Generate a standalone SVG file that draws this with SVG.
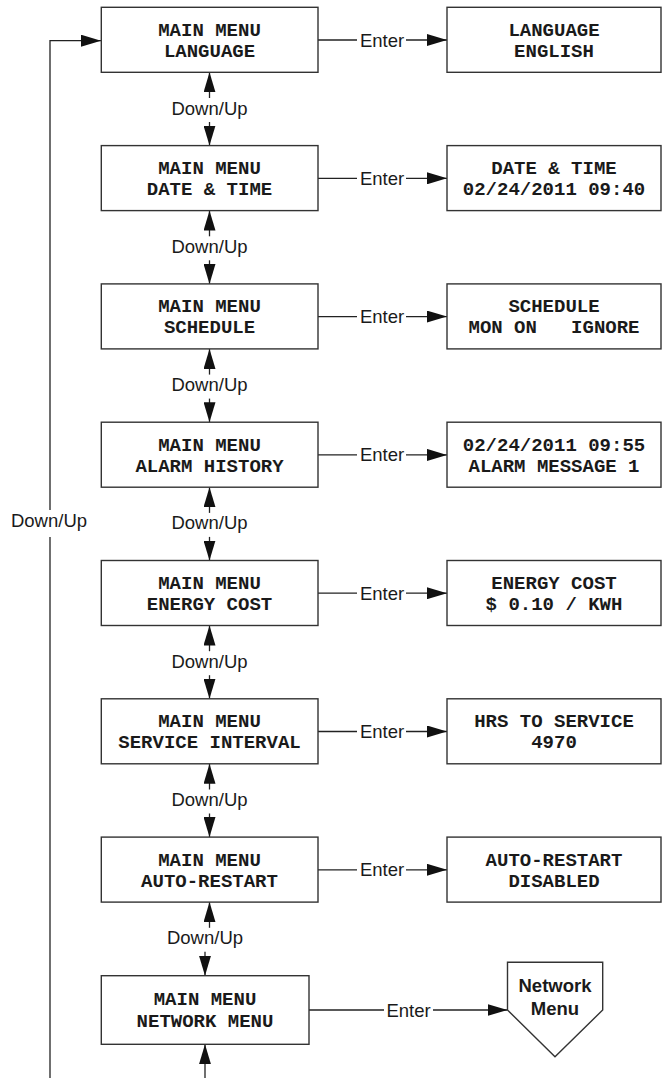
<svg xmlns="http://www.w3.org/2000/svg" width="662" height="1078" viewBox="0 0 662 1078">
<defs>
<marker id="ah" markerWidth="20" markerHeight="12" refX="20" refY="6" orient="auto" markerUnits="userSpaceOnUse">
<path d="M0,0 L20,6 L0,12 z" fill="#111"/>
</marker>
<style>
.box{fill:#fff;stroke:#333;stroke-width:1.4}
.mono{font-family:"Liberation Mono","Courier New",monospace;font-weight:bold;font-size:19px;fill:#1a1a1a;text-anchor:middle;white-space:pre}
.lbl{font-family:"Liberation Sans",Arial,sans-serif;font-size:18.5px;fill:#1a1a1a;text-anchor:middle}
.nm{font-family:"Liberation Sans",Arial,sans-serif;font-size:18.5px;font-weight:bold;fill:#1a1a1a;text-anchor:middle}
.ln{fill:none;stroke:#222;stroke-width:1.3}
.arr{fill:none;stroke:#222;stroke-width:1.3;marker-end:url(#ah)}
</style>
</defs>
<rect width="662" height="1078" fill="#fff"/>

<g id="connectors">
<!-- loop line -->
<path class="ln" d="M50,1078 L50,537"/>
<path class="arr" d="M50,510 L50,40.7 L101,40.7"/>
<text class="lbl" x="49" y="527">Down/Up</text>
<!-- Enter connectors -->
<g id="enter-connectors">
<path class="ln" d="M318,40 L357,40"/><path class="arr" d="M406,40 L447,40"/><text class="lbl" x="382" y="46.5">Enter</text>
<path class="ln" d="M318,178.3 L357,178.3"/><path class="arr" d="M406,178.3 L447,178.3"/><text class="lbl" x="382" y="184.8">Enter</text>
<path class="ln" d="M318,316.6 L357,316.6"/><path class="arr" d="M406,316.6 L447,316.6"/><text class="lbl" x="382" y="323.1">Enter</text>
<path class="ln" d="M318,454.9 L357,454.9"/><path class="arr" d="M406,454.9 L447,454.9"/><text class="lbl" x="382" y="461.4">Enter</text>
<path class="ln" d="M318,593.2 L357,593.2"/><path class="arr" d="M406,593.2 L447,593.2"/><text class="lbl" x="382" y="599.7">Enter</text>
<path class="ln" d="M318,731.5 L357,731.5"/><path class="arr" d="M406,731.5 L447,731.5"/><text class="lbl" x="382" y="738">Enter</text>
<path class="ln" d="M318,869.8 L357,869.8"/><path class="arr" d="M406,869.8 L447,869.8"/><text class="lbl" x="382" y="876.3">Enter</text>
<path class="ln" d="M309,1010 L384,1010"/><path class="arr" d="M433,1010 L507.5,1010"/><text class="lbl" x="408.5" y="1016.5">Enter</text>
</g>
<!-- Down/Up connectors -->
<g id="downup-connectors">
<path class="arr" d="M209.5,98 L209.5,72.3"/><path class="arr" d="M209.5,122 L209.5,145.6"/><text class="lbl" x="209.5" y="114.5">Down/Up</text>
<path class="arr" d="M209.5,236.3 L209.5,210.6"/><path class="arr" d="M209.5,260.3 L209.5,283.9"/><text class="lbl" x="209.5" y="252.8">Down/Up</text>
<path class="arr" d="M209.5,374.6 L209.5,348.9"/><path class="arr" d="M209.5,398.6 L209.5,422.2"/><text class="lbl" x="209.5" y="391.1">Down/Up</text>
<path class="arr" d="M209.5,512.9 L209.5,487.2"/><path class="arr" d="M209.5,536.9 L209.5,560.5"/><text class="lbl" x="209.5" y="529.4">Down/Up</text>
<path class="arr" d="M209.5,651.2 L209.5,625.5"/><path class="arr" d="M209.5,675.2 L209.5,698.8"/><text class="lbl" x="209.5" y="667.7">Down/Up</text>
<path class="arr" d="M209.5,789.5 L209.5,763.8"/><path class="arr" d="M209.5,813.5 L209.5,837.1"/><text class="lbl" x="209.5" y="806">Down/Up</text>
<path class="arr" d="M209.5,927.8 L209.5,902.1"/><path class="arr" d="M205,951.8 L205,975.7"/><text class="lbl" x="205" y="944.3">Down/Up</text>
<path class="arr" d="M205,1078 L205,1044.3"/>
</g>
</g>

<g id="main-language"><rect class="box" x="101.3" y="7.3" width="216.7" height="65"/><text class="mono" x="209.5" y="35.8">MAIN MENU</text><text class="mono" x="209.5" y="56.8">LANGUAGE</text></g>
<g id="sub-language"><rect class="box" x="447" y="7.3" width="214" height="65"/><text class="mono" x="554" y="35.8">LANGUAGE</text><text class="mono" x="554" y="56.8">ENGLISH</text></g>

<g id="main-datetime"><rect class="box" x="101.3" y="145.6" width="216.7" height="65"/><text class="mono" x="209.5" y="174.1">MAIN MENU</text><text class="mono" x="209.5" y="195.1">DATE &amp; TIME</text></g>
<g id="sub-datetime"><rect class="box" x="447" y="145.6" width="214" height="65"/><text class="mono" x="554" y="174.1">DATE &amp; TIME</text><text class="mono" x="554" y="195.1">02/24/2011 09:40</text></g>

<g id="main-schedule"><rect class="box" x="101.3" y="283.9" width="216.7" height="65"/><text class="mono" x="209.5" y="312.4">MAIN MENU</text><text class="mono" x="209.5" y="333.4">SCHEDULE</text></g>
<g id="sub-schedule"><rect class="box" x="447" y="283.9" width="214" height="65"/><text class="mono" x="554" y="312.4">SCHEDULE</text><text class="mono" x="554" y="333.4" xml:space="preserve">MON ON   IGNORE</text></g>

<g id="main-alarm"><rect class="box" x="101.3" y="422.2" width="216.7" height="65"/><text class="mono" x="209.5" y="450.7">MAIN MENU</text><text class="mono" x="209.5" y="471.7">ALARM HISTORY</text></g>
<g id="sub-alarm"><rect class="box" x="447" y="422.2" width="214" height="65"/><text class="mono" x="554" y="450.7">02/24/2011 09:55</text><text class="mono" x="554" y="471.7">ALARM MESSAGE 1</text></g>

<g id="main-energy"><rect class="box" x="101.3" y="560.5" width="216.7" height="65"/><text class="mono" x="209.5" y="589">MAIN MENU</text><text class="mono" x="209.5" y="610">ENERGY COST</text></g>
<g id="sub-energy"><rect class="box" x="447" y="560.5" width="214" height="65"/><text class="mono" x="554" y="589">ENERGY COST</text><text class="mono" x="554" y="610">$ 0.10 / KWH</text></g>

<g id="main-service"><rect class="box" x="101.3" y="698.8" width="216.7" height="65"/><text class="mono" x="209.5" y="727.3">MAIN MENU</text><text class="mono" x="209.5" y="748.3">SERVICE INTERVAL</text></g>
<g id="sub-service"><rect class="box" x="447" y="698.8" width="214" height="65"/><text class="mono" x="554" y="727.3">HRS TO SERVICE</text><text class="mono" x="554" y="748.3">4970</text></g>

<g id="main-autorestart"><rect class="box" x="101.3" y="837.1" width="216.7" height="65"/><text class="mono" x="209.5" y="865.6">MAIN MENU</text><text class="mono" x="209.5" y="886.6">AUTO-RESTART</text></g>
<g id="sub-autorestart"><rect class="box" x="447" y="837.1" width="214" height="65"/><text class="mono" x="554" y="865.6">AUTO-RESTART</text><text class="mono" x="554" y="886.6">DISABLED</text></g>

<g id="main-network"><rect class="box" x="101.3" y="975.7" width="207.7" height="68.6"/><text class="mono" x="205" y="1004.5">MAIN MENU</text><text class="mono" x="205" y="1026.5">NETWORK MENU</text></g>
<g id="network-menu"><path class="box" d="M507.5,962.3 L602.7,962.3 L602.7,1010 L555,1056.7 L507.5,1010 Z"/><text class="nm" x="555" y="991.7">Network</text><text class="nm" x="555" y="1015">Menu</text></g>
</svg>
